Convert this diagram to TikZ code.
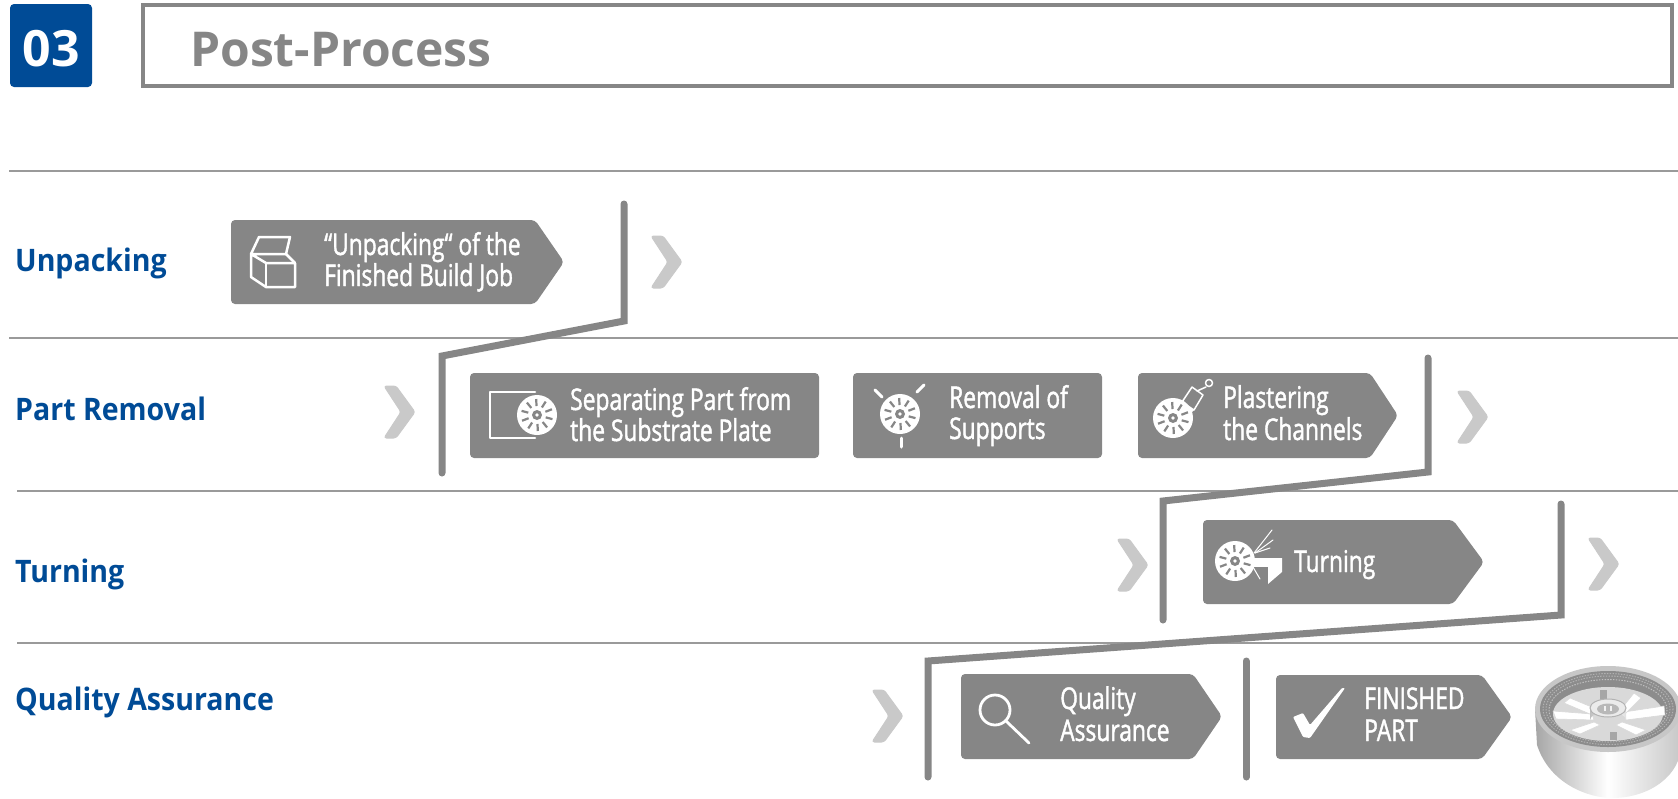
\documentclass[tikz,border=0pt]{standalone}
\usepackage{fontspec}
\setmainfont{Open Sans}
\newfontfamily\condf[FakeStretch=0.76,FakeBold=1.4]{Open Sans}
\newfontfamily\rowf[FakeStretch=0.92]{Open Sans}
\definecolor{blu}{HTML}{004B96}
\definecolor{gr}{HTML}{868686}
\definecolor{chev}{HTML}{C9C9C9}
\definecolor{rul}{HTML}{9A9A9A}
\tikzset{
  rowlabel/.style={anchor=base west,inner sep=0pt,text=blu,font=\rowf\bfseries\fontsize{31}{31}\selectfont},
  boxtext/.style={anchor=base west,inner sep=0pt,text=white,font=\condf\fontsize{30}{30}\selectfont},
  stepbox/.style={fill=gr,draw=none,rounded corners=4pt},
  chevron/.style={fill=chev,draw=chev,line width=1pt,rounded corners=2.5pt,line join=round},
  divider/.style={draw=gr,line width=7pt,line cap=round,line join=miter},
  ruleline/.style={draw=rul,line width=1.6pt},
  icon/.style={draw=white,line width=2.5pt,line cap=round,line join=round},
  wheel/.pic={
    \fill[white] (0,0) circle (20);
    \foreach \a in {0,36,...,324}{\draw[gr,line width=2.2pt] (\a+15:9) -- (\a+15:16);}
    \fill[gr] (0,0) circle (5);
    \fill[white] (0,0) circle (1.8);
  },
  fin/.style={fill=white,draw=black!15,line width=.6pt,line join=round}
}
\newcommand{\chevronat}[2]{% left x, mid y
  \path[chevron] (#1,#2-26) -- (#1+12,#2-26) -- (#1+31,#2) -- (#1+12,#2+26) -- (#1,#2+26) -- (#1+17,#2) -- cycle;}
\newcommand{\arrowbox}[5]{% left,top,shoulder,right,bottom
  \path[stepbox] (#1,#2) -- (#3,#2) -- (#4,#2/2+#5/2) -- (#3,#5) -- (#1,#5) -- cycle;}
\begin{document}
\begin{tikzpicture}[x=1pt,y=-1pt]
\useasboundingbox (0,0) rectangle (1678,798);
\clip (0,0) rectangle (1678,798);
% header
\fill[blu,rounded corners=4pt] (10,4) rectangle (92,87);
\node[anchor=base,inner sep=0pt,text=white,font=\bfseries\fontsize{50}{50}\selectfont] (num) at (51,66) {03};
\draw[draw=gr,line width=3.2pt] (143,5) rectangle (1672,86);
\node[anchor=base west,inner sep=0pt,text=gr,font=\bfseries\fontsize{48}{48}\selectfont] (title) at (190,66) {Post-Process};
% rules
\draw[ruleline] (9,171) -- (1678,171);
\draw[ruleline] (9,338) -- (1678,338);
\draw[ruleline] (17,491) -- (1678,491);
\draw[ruleline] (17,643) -- (1678,643);
% row labels
\node[rowlabel] (r1) at (15,271) {Unpacking};
\node[rowlabel] (r2) at (15,420) {Part Removal};
\node[rowlabel] (r3) at (15,582) {Turning};
\node[rowlabel] (r4) at (15,710) {Quality Assurance};
% step boxes
\arrowbox{231}{220}{535}{564}{304}
\path[stepbox] (470,373) rectangle (819,458);
\path[stepbox] (853,373) rectangle (1102,458);
\arrowbox{1138}{373}{1370}{1398}{458}
\arrowbox{1203}{520}{1453}{1484}{604}
\arrowbox{961}{674}{1193}{1222}{759}
\arrowbox{1276}{675}{1482}{1512}{759}
% chevrons
\chevronat{651}{262}
\chevronat{384}{412}
\chevronat{1457}{417}
\chevronat{1117}{565}
\chevronat{1588}{564}
\chevronat{872}{716}
% dividers
\coordinate (d1a) at (624,204); \coordinate (d1b) at (624,321); \coordinate (d1c) at (442,356); \coordinate (d1d) at (442,473);
\coordinate (d2a) at (1428,358); \coordinate (d2b) at (1428,472); \coordinate (d2c) at (1163,501); \coordinate (d2d) at (1163,620);
\coordinate (d3a) at (1561,504); \coordinate (d3b) at (1561,615); \coordinate (d3c) at (928,661); \coordinate (d3d) at (928,777);
\coordinate (d4a) at (1246,661); \coordinate (d4b) at (1246,777);
\draw[divider] (d1a) -- (d1b) -- (d1c) -- (d1d);
\draw[divider] (d2a) -- (d2b) -- (d2c) -- (d2d);
\draw[divider] (d3a) -- (d3b) -- (d3c) -- (d3d);
\draw[divider] (d4a) -- (d4b);
% texts
\node[boxtext] (t1a) at (324,255) {“Unpacking“ of the};
\node[boxtext] (t1b) at (324,286) {Finished Build Job};
\node[boxtext] (t2a) at (570,410) {Separating Part from};
\node[boxtext] (t2b) at (570,441) {the Substrate Plate};
\node[boxtext] (t3a) at (949,408) {Removal of};
\node[boxtext] (t3b) at (949,439) {Supports};
\node[boxtext] (t4a) at (1223,408) {Plastering};
\node[boxtext] (t4b) at (1223,440) {the Channels};
\node[boxtext] (t5) at (1294,572) {Turning};
\node[boxtext] (t6a) at (1060,709) {Quality};
\node[boxtext] (t6b) at (1060,741) {Assurance};
\node[boxtext] (t7a) at (1364,709) {FINISHED};
\node[boxtext] (t7b) at (1364,741) {PART};
% icon: box
\draw[icon] (251,254) -- (259,237) -- (290,237) -- (286,254) -- (251,254) -- (266,263) -- (295,263) -- (295,287) -- (266,287) -- (251,277) -- cycle;
\draw[icon] (266,263) -- (266,287);
\draw[icon] (286,254) -- (295,263);
% icon: separating
\draw[icon] (535,392) -- (490,392) -- (490,438) -- (535,438);
\pic at (537,415) {wheel};
% icon: removal
\pic at (900,414) {wheel};
\draw[icon,line width=3pt] (875,390) -- (882,397);
\draw[icon,line width=3pt] (924,385) -- (917,392);
\draw[icon,line width=3pt] (901,438) -- (901,447);
% icon: plastering
\pic at (1173,418) {wheel};
\fill[white] (1187,408) -- (1182,402) -- (1194,410) -- (1191,413) -- cycle;
\draw[icon,line width=1.5pt] (1182,402) -- (1192,387) -- (1203,395) -- (1194,410) -- cycle;
\draw[icon,line width=1.5pt] (1197,391) -- (1206,387);
\draw[icon,line width=1.5pt] (1209,383) circle (3.5);
% icon: turning
\pic at (1235,561) {wheel};
\fill[white] (1253,558) rectangle (1268,567);
\fill[white] (1268,558) -- (1282,558) -- (1282,572) -- (1268,584) -- cycle;
\draw[icon,line width=1pt] (1254,553) -- (1272,530);
\draw[icon,line width=1pt] (1255,553) -- (1273,540);
\draw[icon,line width=1pt] (1255,553) -- (1270,548);
\draw[icon,line width=1pt] (1253,567) -- (1260,579);
% icon: magnifier
\draw[icon,line width=2.8pt] (995,710) circle (15);
\draw[icon,line width=2.8pt] (1006,721) -- (1029,743);
% icon: check
\fill[white,rounded corners=1pt] (1293,717) -- (1303,713) -- (1310,725) -- (1342,688) -- (1345,688) -- (1310,738) -- (1303,737) -- cycle;
% finished part
\shade[left color=black!35,right color=black!22,middle color=white]
  (1535,709) -- (1537,745) .. controls (1550,785) and (1590,798) .. (1612,798)
  .. controls (1650,798) and (1681,775) .. (1681,745) -- (1681,709) -- cycle;
\fill[black!22] (1608,709) ellipse (73 and 43);
\fill[black!45] (1608,709) ellipse (68 and 38);
\draw[white!70!black,line width=1pt,dash pattern=on 1.4pt off 1.4pt] (1608,709) ellipse (65 and 35.5);
\draw[white!70!black,line width=1pt,dash pattern=on 1.4pt off 1.4pt] (1608,709) ellipse (62 and 33);
\draw[white!75!black,line width=1pt,dash pattern=on 1.4pt off 1.4pt] (1608,710) ellipse (59 and 30.5);
\fill[black!15] (1608,714) ellipse (55 and 27);
% fins
\path[fin] (1592,714) -- (1553,711) -- (1556,719) -- (1594,720) -- cycle;
\path[fin] (1624,712) -- (1664,706) -- (1665,715) -- (1626,720) -- cycle;
\path[fin] (1594,708) -- (1570,698) -- (1564,703) -- (1590,714) -- cycle;
\path[fin] (1622,708) -- (1634,693) -- (1641,698) -- (1626,713) -- cycle;
\path[fin] (1594,722) -- (1570,730) -- (1580,734) -- (1600,725) -- cycle;
\path[fin] (1622,722) -- (1646,730) -- (1636,735) -- (1616,725) -- cycle;
% pins
\fill[black!35] (1600,690) rectangle (1607,702);
\fill[black!35] (1610,732) rectangle (1617,740);
% hub
\shade[left color=black!25,right color=black!12,middle color=white] (1590,708) -- (1590,720) arc[start angle=180,end angle=360,x radius=18,y radius=8] -- (1626,708) -- cycle;
\fill[black!8,draw=black!30,line width=1pt] (1608,708) ellipse (18 and 9);
\fill[black!28] (1608,709) ellipse (11 and 5.5);
\fill[black!5] (1604,706) rectangle (1606,711);
\fill[black!5] (1610,706) rectangle (1612,711);
\end{tikzpicture}
\end{document}
